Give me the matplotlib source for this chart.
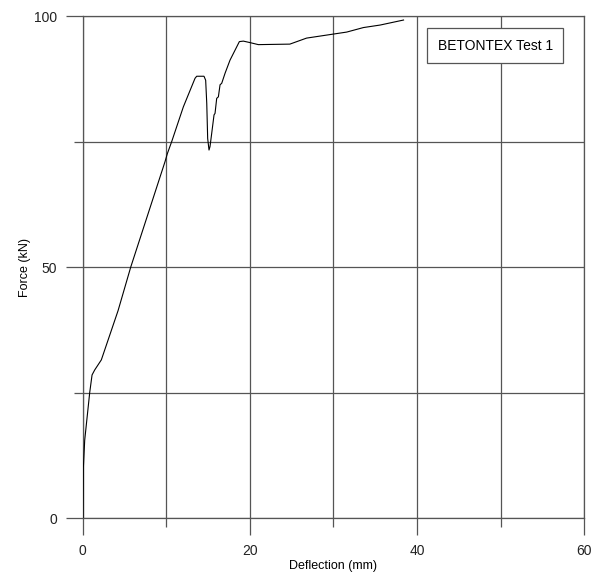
import matplotlib
matplotlib.use("Agg")
import matplotlib.pyplot as plt
from matplotlib.patches import Rectangle
from matplotlib.ticker import MultipleLocator

plt.rcParams["font.family"] = ["Liberation Sans", "DejaVu Sans"]

# data
deflection = [0.06, 0.1, 0.26, 0.86, 1.14, 1.46, 2.25, 4.25, 5.77, 9.87,
              10.15, 10.67, 12.06, 13.46, 13.66, 14.53, 14.73, 14.86, 14.97,
              15.13, 15.25, 15.45, 15.73, 15.85, 16.05, 16.25, 16.45, 16.65,
              17.05, 17.64, 18.76, 19.24, 20.04, 21.03, 24.8, 26.8, 30.0,
              31.6, 33.6, 35.6, 38.4]
force = [0.0, 10.0, 15.5, 25.0, 28.5, 29.5, 31.5, 41.3, 50.0, 71.0,
         72.6, 75.0, 81.9, 87.6, 88.0, 88.0, 87.2, 82.6, 75.6,
         73.3, 74.0, 76.6, 80.3, 80.6, 83.6, 83.9, 86.3, 86.6,
         88.6, 91.2, 94.9, 95.0, 94.7, 94.3, 94.4, 95.6, 96.4,
         96.8, 97.7, 98.2, 99.2]
series_label = "BETONTEX Test 1"
x_ticks = [0, 20, 40, 60]
y_ticks = [0, 50, 100]

grid_c = "#555555"

fig = plt.figure(figsize=(5.92, 5.78), dpi=100)
ax = fig.add_axes([0.1394, 0.1038, 0.8473, 0.8685])

ax.plot(deflection, force, color="black", lw=0.8, zorder=3)

ax.set_xlim(0, 60)
ax.set_ylim(0, 100)
ax.set_xticks(x_ticks)
ax.set_yticks(y_ticks)
ax.xaxis.set_minor_locator(MultipleLocator(10))
ax.yaxis.set_minor_locator(MultipleLocator(25))
ax.grid(which="both", color=grid_c, lw=0.9)
ax.set_axisbelow(True)
for s in ax.spines.values():
    s.set_color(grid_c)
    s.set_linewidth(0.9)

ax.tick_params(which="major", direction="out", length=12.5, width=0.9,
               color=grid_c, labelsize=10, labelcolor="#222222")
ax.tick_params(axis="x", which="major", pad=6)
ax.tick_params(axis="y", which="major", pad=6)
ax.tick_params(which="minor", direction="out", length=6.5, width=0.9,
               color=grid_c)

ax.set_xlabel("Deflection (mm)", fontsize=9, labelpad=2)
ax.set_ylabel("Force (kN)", fontsize=9, labelpad=2)

# legend box
ax.add_patch(Rectangle((0.687, 0.906), 0.271, 0.070, transform=ax.transAxes,
                       facecolor="white", edgecolor=grid_c, lw=0.9, zorder=4))
ax.text(0.8225, 0.941, series_label, transform=ax.transAxes, fontsize=10,
        ha="center", va="center", zorder=5)

fig.savefig("out.png", dpi=100)
